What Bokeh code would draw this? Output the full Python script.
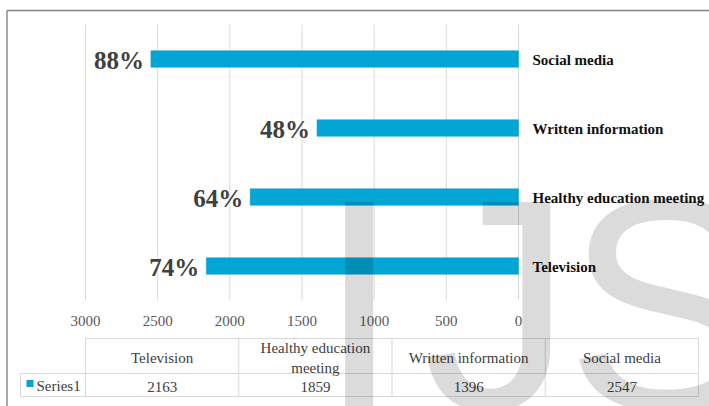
from bokeh.plotting import figure
from bokeh.models import Range1d, ColumnDataSource
from bokeh.core.properties import value
from bokeh.embed import file_html
from bokeh.resources import INLINE

# ---- data (table order) ----
categories = ["Television", "Healthy education meeting", "Written information", "Social media"]
counts = [2163, 1859, 1396, 2547]
pct_labels = ["74%", "64%", "48%", "88%"]
series_name = "Series1"
tick_values = [3000, 2500, 2000, 1500, 1000, 500, 0]
tick_labels = ["3000", "2500", "2000", "1500", "1000", "500", "0"]

BLUE = "#02A5D4"
SERIF = value("Liberation Serif")
W, H = 709, 406

# slot position from top (Social media on top, Television at bottom)
n = len(categories)
slots = [n - 1 - i for i in range(n)]

p = figure(width=W, height=H, output_backend="svg", toolbar_location=None,
           x_range=Range1d(3588.9, -1323.3), y_range=Range1d(5.036, -0.848),
           x_axis_location=None, y_axis_location=None, min_border=0,
           outline_line_color=None, background_fill_color="white",
           border_fill_color="white")
p.xgrid.visible = False
p.ygrid.visible = False
p.extra_x_ranges = {"px": Range1d(0, W)}
p.extra_y_ranges = {"px": Range1d(H, 0)}

# border of the chart area
p.segment(x0=[6.5, 6.5], y0=[10, 10], x1=[W, 6.5], y1=[10, H],
          x_range_name="px", y_range_name="px", line_color="#858585", line_width=1.4)

# gridlines at ticks
p.segment(x0=tick_values, x1=tick_values, y0=[-0.5] * len(tick_values),
          y1=[n - 0.5] * len(tick_values), line_color="#D9D9D9", line_width=1)

# bars
src = ColumnDataSource(dict(y=slots, v=counts, cat=categories, pct=pct_labels))
p.hbar(y="y", left=0, right="v", height=0.24, source=src,
       fill_color=BLUE, line_color=BLUE, line_width=0.5)

# percentage labels
p.text(x="v", y="y", text="pct", source=src, x_offset=-7, y_offset=1,
       text_align="right", text_baseline="middle", text_font=SERIF,
       text_font_style="bold", text_font_size="25px", text_color="#404040")

# category labels
p.text(x=0, y="y", text="cat", source=src, x_offset=14, y_offset=1,
       text_align="left", text_baseline="middle", text_font=SERIF,
       text_font_style="bold", text_font_size="15px", text_color="#111111")

# x tick labels
p.text(x=tick_values, y=[320] * len(tick_values), text=tick_labels,
       y_range_name="px", text_align="center", text_baseline="middle",
       text_font=SERIF, text_font_size="15px", text_color="#595959")

# ---- data table ----
col_left, col_w = 85, 153.25
row_top, row_mid, row_bot = 338, 373, 396
tbl_left = 20
grid_c = "#D9D9D9"
xs_v = [col_left + col_w * i for i in range(n + 1)]
p.segment(x0=xs_v, x1=xs_v, y0=[row_top] * len(xs_v), y1=[row_bot] * len(xs_v),
          x_range_name="px", y_range_name="px", line_color=grid_c, line_width=1)
p.segment(x0=[tbl_left], x1=[tbl_left], y0=[row_mid], y1=[row_bot],
          x_range_name="px", y_range_name="px", line_color=grid_c, line_width=1)
p.segment(x0=[col_left, tbl_left, tbl_left], x1=[xs_v[-1]] * 3,
          y0=[row_top, row_mid, row_bot], y1=[row_top, row_mid, row_bot],
          x_range_name="px", y_range_name="px", line_color=grid_c, line_width=1)


def wrap(s, limit=20):
    if len(s) <= limit:
        return s
    k = s.rfind(" ", 0, limit)
    return s[:k] + "\n" + s[k + 1:]


centers = [col_left + col_w * (i + 0.5) for i in range(n)]
p.text(x=centers, y=[357] * n, text=[wrap(c) for c in categories],
       x_range_name="px", y_range_name="px", text_align="center",
       text_baseline="middle", text_font=SERIF, text_font_size="15px",
       text_color="#404040", text_line_height=1.25)
p.text(x=centers, y=[386] * n, text=[str(c) for c in counts],
       x_range_name="px", y_range_name="px", text_align="center",
       text_baseline="middle", text_font=SERIF, text_font_size="15px",
       text_color="#404040")
p.scatter(x=[29.5], y=[383], marker="square", size=7, fill_color=BLUE,
          line_color=None, x_range_name="px", y_range_name="px")
p.text(x=[36], y=[385], text=[series_name], x_range_name="px", y_range_name="px",
       text_align="left", text_baseline="middle", text_font=SERIF,
       text_font_size="15px", text_color="#404040")

# watermark letters
p.text(x=[317, 422, 565], y=[304, 304, 304], text=["I", "J", "S"],
       x_range_name="px", y_range_name="px",
       text_align="left", text_baseline="alphabetic",
       text_font=value("Liberation Sans"), text_font_size="300px",
       text_color="black", text_alpha=0.14)

open("out.html", "w").write(file_html(p, INLINE))
